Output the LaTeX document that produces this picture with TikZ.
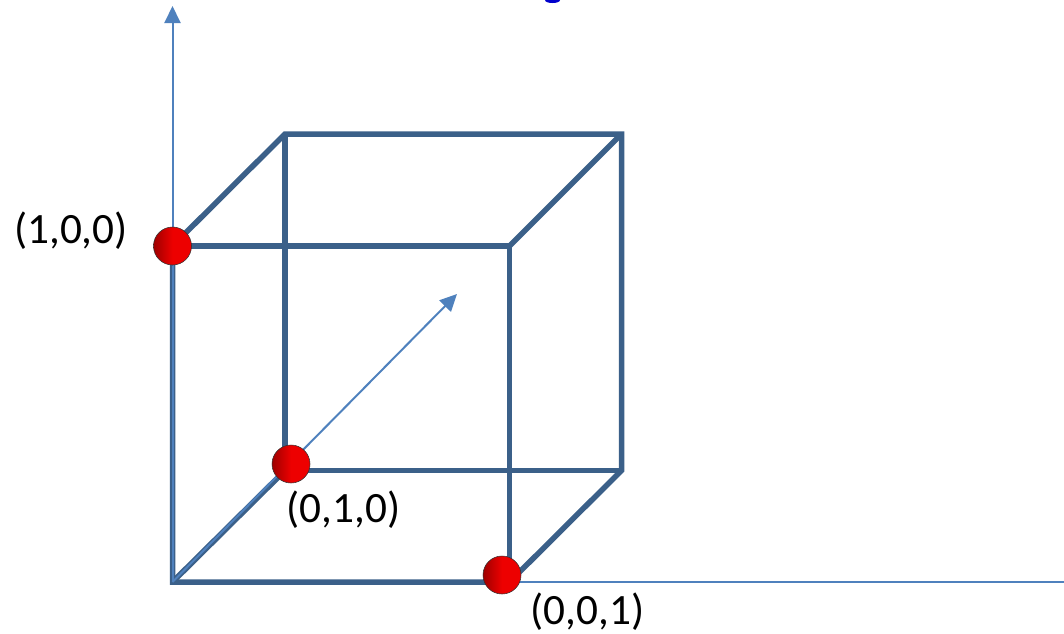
\documentclass[tikz,border=0pt]{standalone}
\usepackage{fontspec}
\setmainfont{Carlito}
\usetikzlibrary{arrows.meta}
\definecolor{edgeblue}{HTML}{3B6089}
\definecolor{axisblue}{HTML}{4F81BD}
\definecolor{titleblue}{HTML}{0000CC}
\pgfdeclarehorizontalshading{dotshade}{100bp}{color(0bp)=(red!62!black); color(25bp)=(red!62!black); color(50bp)=(red!93!black); color(100bp)=(red!93!black)}
\tikzset{
  edge/.style={draw=edgeblue, line width=0.055cm},
  axis/.style={draw=axisblue, line width=0.02cm, -{Triangle[length=0.17cm,width=0.16cm]}},
  pointdot/.style={circle, draw=black!80, line width=0.15pt, minimum size=0.38cm, inner sep=0pt, shading=dotshade},
  coordlabel/.style={font=\fontsize{12.3pt}{15pt}\selectfont, inner sep=0pt}
}
\begin{document}
\begin{tikzpicture}[x=0.01cm,y=-0.01cm]
\useasboundingbox (0,0) rectangle (1064,633);
% cube corners:
\coordinate (o) at (172.5,582);
\coordinate (fronttopleft) at (172.5,246);
\coordinate (fronttopright) at (509.5,246);
\coordinate (frontbotright) at (509.5,582);
\coordinate (backtopleft) at (285,134);
\coordinate (backtopright) at (621.5,134);
\coordinate (backbotleft) at (285,470.5);
\coordinate (backbotright) at (621.5,470.5);
% axis ends:
\coordinate (ytip) at (172.5,6);
\coordinate (xend) at (1064,582);
\coordinate (ztip) at (457,294);
% back edges:
\draw[edge] (backbotleft) -- (backtopleft);
\draw[edge] (backbotleft) -- (backbotright);
\draw[edge] (o) -- (backbotleft);
% front edges:
\draw[edge] (fronttopleft) -- (fronttopright) -- (frontbotright);
\draw[edge, line join=miter] (o) -- (frontbotright) -- (backbotright) -- (backtopright) -- (backtopleft) -- (fronttopleft) -- cycle;
\draw[edge] (fronttopright) -- (backtopright);
% axes:
\draw[axis] (o) -- (ytip);
\draw[axis] (o) -- (ztip);
\draw[axisblue, line width=0.02cm] (frontbotright) -- (xend);
% points:
\node[pointdot] (p100) at (172.5,246) {};
\node[pointdot] (p010) at (291,464) {};
\node[pointdot] (p001) at (502,575) {};
% labels:
\node[coordlabel] (l100) at (71,231) {(1,0,0)};
\node[coordlabel] (l010) at (343.5,510) {(0,1,0)};
\node[coordlabel] (l001) at (587.5,612) {(0,0,1)};
% cut off title:
\fill[titleblue] (545,0) -- (560,0) .. controls (560,4) and (545,4) .. (545,0);
\end{tikzpicture}
\end{document}
